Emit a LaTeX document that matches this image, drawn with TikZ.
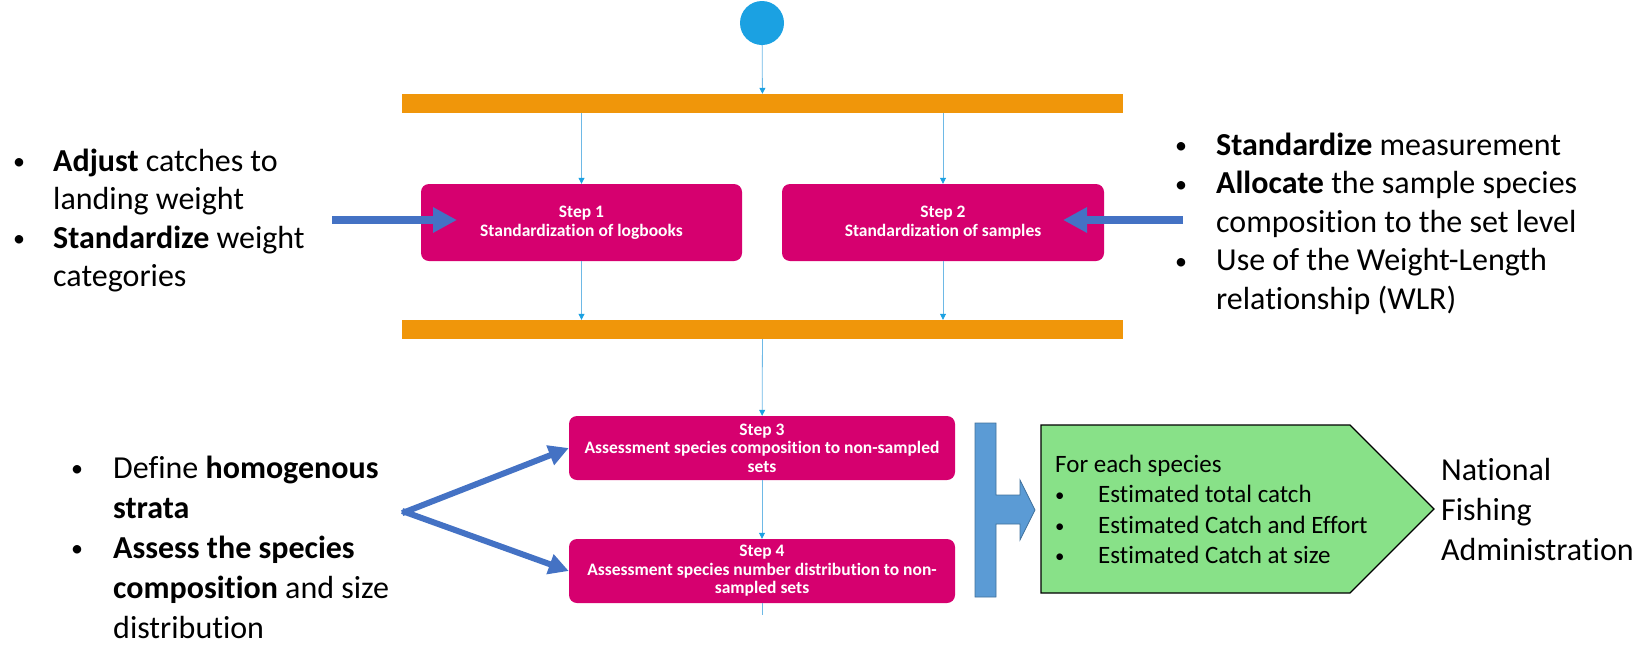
\documentclass[tikz,border=0pt]{standalone}
\usepackage{fontspec}
\usepackage{graphicx}
\setmainfont{Carlito}[Ligatures=NoCommon]
\usetikzlibrary{arrows.meta,positioning,calc}
\definecolor{startblue}{RGB}{27,161,226}
\definecolor{flowblue}{RGB}{110,185,230}
\definecolor{barorange}{RGB}{240,150,10}
\definecolor{stepmagenta}{RGB}{214,0,111}
\definecolor{arrblue}{RGB}{68,114,196}
\definecolor{tblue}{RGB}{91,155,213}
\definecolor{tborder}{RGB}{65,113,156}
\definecolor{outgreen}{RGB}{136,225,136}
\newcommand{\dotmark}{\raisebox{0.04em}{\scalebox{0.75}{\textbullet}}}
\tikzstyle{bar}=[fill=barorange,minimum width=721pt,minimum height=19pt,inner sep=0pt]
\tikzstyle{stepbox}=[fill=stepmagenta,rounded corners=8pt,text=white,align=center,inner sep=0pt,font=\fontsize{17.5}{18.5}\selectfont\bfseries]
\tikzstyle{flow}=[draw=flowblue,line width=0.8pt,-{Triangle[length=6pt,width=6pt,color=startblue]}]
\tikzstyle{fat}=[draw=arrblue,line width=8pt,-{Triangle[length=24pt,width=24pt]}]
\tikzstyle{fork}=[draw=arrblue,line width=6pt,-{Triangle[length=20pt,width=20pt]}]
\tikzstyle{notes}=[font=\fontsize{32}{38.5}\selectfont,inner sep=0pt,anchor=base west]

\begin{document}
\begin{tikzpicture}[x=1pt,y=-1pt]
	\useasboundingbox (0,0) rectangle (1647,670);

	\node[circle,fill=startblue,minimum size=44pt,inner sep=0pt] (start) at (762,23) {};
	\node[bar] (bar1) at (762.5,103.5) {};
	\node[bar] (bar2) at (762.5,329.5) {};

	\node[stepbox,minimum width=321pt,minimum height=77pt] (st1) at (581.5,222.5) {Step 1\\Standardization of logbooks};
	\node[stepbox,minimum width=322pt,minimum height=77pt] (st2) at (943,222.5) {Step 2\\Standardization of samples};
	\node[stepbox,minimum width=386pt,minimum height=64pt] (st3) at (762,448) {Step 3\\Assessment species composition to non-sampled\\sets};
	\node[stepbox,minimum width=386pt,minimum height=64pt] (st4) at (762,571) {Step 4\\Assessment species number distribution to non-\\sampled sets};
	\coordinate (tail) at (762,615);

	\draw[flow] (start) -- (bar1);
	\draw[flow] (st1 |- bar1.south) -- (st1);
	\draw[flow] (st2 |- bar1.south) -- (st2);
	\draw[flow] (st1) -- (st1 |- bar2.north);
	\draw[flow] (st2) -- (st2 |- bar2.north);
	\draw[flow] (bar2) -- (st3);
	\draw[flow] (st3) -- (st4);
	\draw[draw=flowblue,line width=0.8pt] (st4) -- (tail);

	% notes
	\node[notes] (adjust) at (13,171) {\begin{tabular}[t]{@{}p{40pt}@{}l@{}}
		\dotmark & \textbf{Adjust} catches to\\
		& landing weight\\
		\dotmark & \textbf{Standardize} weight\\
		& categories
	\end{tabular}};
	\node[notes] (measure) at (1175,155) {\begin{tabular}[t]{@{}p{41pt}@{}l@{}}
		\dotmark & \textbf{Standardize} measurement\\
		\dotmark & \textbf{Allocate} the sample species\\
		& composition to the set level\\
		\dotmark & Use of the Weight-Length\\
		& relationship (WLR)
	\end{tabular}};
	\node[notes,font=\fontsize{32}{40}\selectfont] (strata) at (71,478) {\begin{tabular}[t]{@{}p{42pt}@{}l@{}}
		\dotmark & Define \textbf{homogenous}\\
		& \textbf{strata}\\
		\dotmark & \textbf{Assess the species}\\
		& \textbf{composition} and size\\
		& distribution
	\end{tabular}};

	\coordinate (adjin) at (332,220);
	\coordinate (adjtip) at (457,220);
	\coordinate (measin) at (1183,220);
	\coordinate (meastip) at (1063,220);
	\draw[fat] (adjin) -- (adjtip);
	\draw[fat] (measin) -- (meastip);

	\coordinate (split) at (405,512);
	\draw[fork,shorten <=-3pt] (split) -- (st3.west);
	\draw[fork,shorten <=-3pt] (split) -- (st4.west);

	% output
	\draw[draw=tborder,fill=tblue,line width=0.8pt] (975,423) -- (996,423) -- (996,495) -- (1020,495) -- (1020,480)
		-- (1035,510) -- (1020,540) -- (1020,524) -- (996,524) -- (996,597) -- (975,597) -- cycle;
	\draw[fill=outgreen,line width=1.2pt] (1041,425) -- (1350,425) -- (1434,509) -- (1350,593) -- (1041,593) -- cycle;
	\node[notes,font=\fontsize{25}{30.5}\selectfont] (result) at (1055,472) {\begin{tabular}[t]{@{}p{43pt}@{}l@{}}
		\multicolumn{2}{@{}l@{}}{For each species}\\
		\dotmark & Estimated total catch\\
		\dotmark & Estimated Catch and Effort\\
		\dotmark & Estimated Catch at size
	\end{tabular}};
	\node[notes,font=\fontsize{32}{40}\selectfont] (nfa) at (1441,480) {\begin{tabular}[t]{@{}l@{}}
		National\\
		Fishing\\
		Administration
	\end{tabular}};
\end{tikzpicture}
\end{document}
